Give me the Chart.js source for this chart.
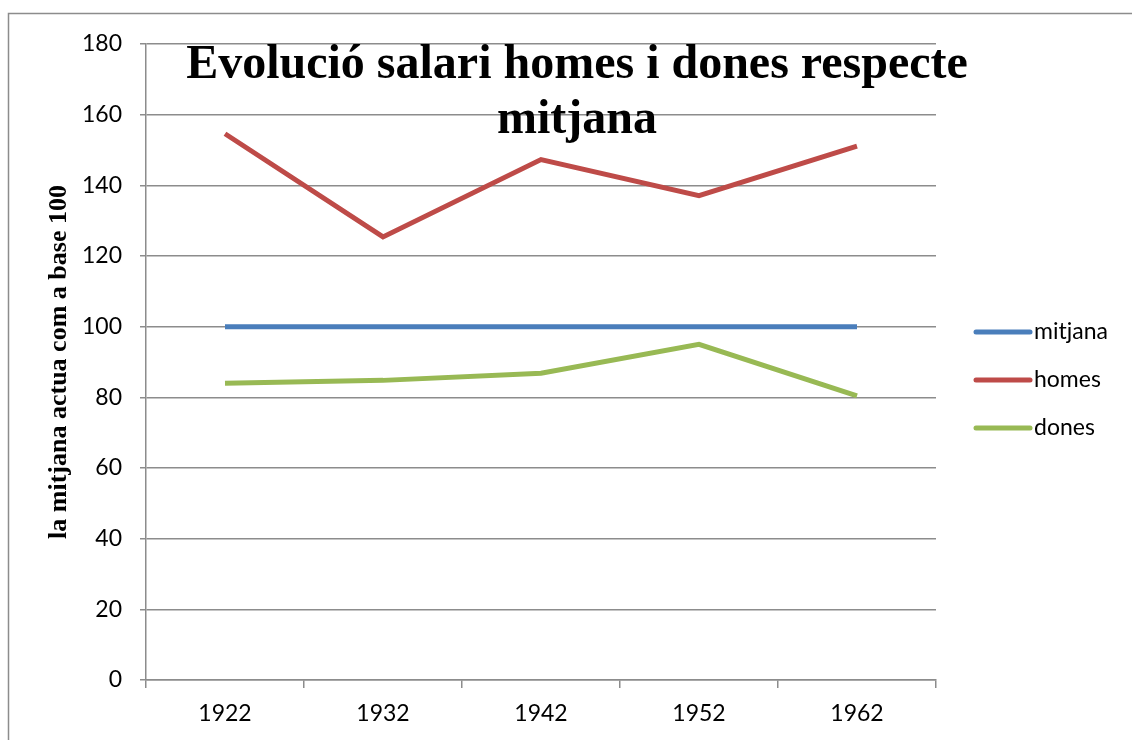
<!DOCTYPE html>
<html lang="ca">
<head>
<meta charset="UTF-8">
<title>Evolució salari homes i dones respecte mitjana</title>
<script src="https://cdn.jsdelivr.net/npm/chart.js"></script>
<style>
  html, body { margin: 0; padding: 0; background: #fff; }
  #wrap { width: 1132px; height: 740px; position: relative; }
</style>
</head>
<body>
<div id="wrap"><canvas id="salaryChart"></canvas></div>
<script>
const years = ['1922', '1932', '1942', '1952', '1962'];
const seriesNames = ['mitjana', 'homes', 'dones'];
const mitjana = [100, 100, 100, 100, 100];
const homes = [154.6, 125.4, 147.3, 137.1, 151.1];
const dones = [84.0, 84.8, 86.8, 95.0, 80.4];
const titleLines = ['Evolució salari homes i dones respecte', 'mitjana'];
const yAxisTitle = 'la mitjana actua com a base 100';

const colors = ['#4a7ebb', '#be4b48', '#98b954'];
const gridColor = '#8c8c8c';
const tickFont = { family: 'Lato, "Open Sans", sans-serif', size: 23 };

// frame, title over the plot, legend on the right
const decor = {
  id: 'decor',
  beforeDraw(chart) {
    const c = chart.ctx;
    c.save();
    c.strokeStyle = '#8c8c8c';
    c.lineWidth = 1.5;
    c.strokeRect(8.5, 13.5, 1300, 900);
    c.restore();
  },
  afterDraw(chart) {
    const c = chart.ctx;
    c.save();
    c.fillStyle = '#000';
    c.font = 'bold 48px "Liberation Serif", "Times New Roman", serif';
    c.textAlign = 'center';
    c.textBaseline = 'middle';
    c.fillText(titleLines[0], 577, 66);
    c.fillText(titleLines[1], 577, 121);

    c.font = '23px ' + tickFont.family;
    c.textAlign = 'left';
    seriesNames.forEach((name, i) => {
      const y = 332 + i * 48;
      c.strokeStyle = colors[i];
      c.lineWidth = 5;
      c.lineCap = 'round';
      c.beginPath();
      c.moveTo(976, y);
      c.lineTo(1030, y);
      c.stroke();
      c.fillText(name, 1034, y);
    });
    c.restore();
  }
};

new Chart(document.getElementById('salaryChart'), {
  type: 'line',
  data: {
    labels: years,
    datasets: [mitjana, homes, dones].map((d, i) => ({
      label: seriesNames[i],
      data: d,
      borderColor: colors[i],
      backgroundColor: colors[i],
      borderWidth: 5,
      pointRadius: 0,
      tension: 0,
      fill: false
    }))
  },
  options: {
    responsive: true,
    maintainAspectRatio: false,
    animation: false,
    layout: { padding: { left: 44, right: 196, top: 44, bottom: 0 } },
    plugins: {
      legend: { display: false },
      title: { display: false },
      tooltip: { enabled: false }
    },
    scales: {
      x: {
        offset: true,
        grid: { offset: true, drawOnChartArea: false, drawTicks: true, tickLength: 8, color: gridColor, lineWidth: 1.5 },
        border: { display: true, color: gridColor, width: 1.5 },
        ticks: { color: '#000', font: tickFont, padding: 12, maxRotation: 0 },
        afterFit(scale) { scale.height = 60; }
      },
      y: {
        min: 0,
        max: 180,
        ticks: { stepSize: 20, color: '#000', font: tickFont, padding: 18 },
        grid: { color: gridColor, lineWidth: 1.5, tickLength: 6, drawTicks: true },
        border: { display: true, color: gridColor, width: 1.5 },
        title: {
          display: true,
          text: yAxisTitle,
          color: '#000',
          font: { family: '"Liberation Serif", "Times New Roman", serif', size: 26, weight: 'bold' },
          padding: 0
        },
        afterFit(scale) { scale.width = 146 - 44; }
      }
    }
  },
  plugins: [decor]
});
</script>
</body>
</html>
